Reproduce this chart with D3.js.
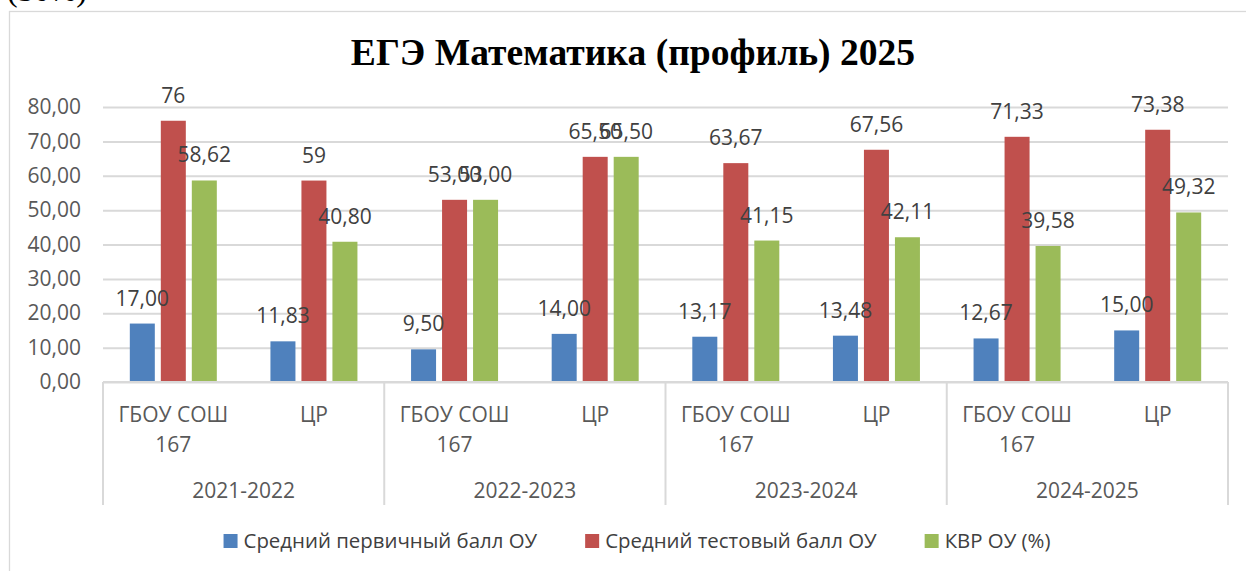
<!DOCTYPE html>
<html>
<head>
<meta charset="utf-8">
<script src="https://cdn.jsdelivr.net/npm/d3@7/dist/d3.min.js"></script>
<style>
  body { margin: 0; background: #fff; overflow: hidden; }
  svg { display: block; }
</style>
</head>
<body>
<div id="chart"></div>
<script>
// chart data
const years = ["2021-2022", "2022-2023", "2023-2024", "2024-2025"];
const schools = ["ГБОУ СОШ 167", "ЦР"];
const seriesNames = ["Средний первичный балл ОУ", "Средний тестовый балл ОУ", "КВР ОУ (%)"];
const seriesColors = ["#4F81BD", "#C0504D", "#9BBB59"];
const primaryScore = [17.00, 11.83, 9.50, 14.00, 13.17, 13.48, 12.67, 15.00];
const testScore = [76, 58.6, 53.00, 65.50, 63.67, 67.56, 71.33, 73.38];
const kvrScore = [58.62, 40.80, 53.00, 65.50, 41.15, 42.11, 39.58, 49.32];
const testLabels = ["76", "59", "53,00", "65,50", "63,67", "67,56", "71,33", "73,38"];
const yTicks = [0, 10, 20, 30, 40, 50, 60, 70, 80];

(() => {
  const W = 1246, H = 571;
  const left = 103, right = 1228, top = 107, bottom = 382;
  const uiFont = "'Open Sans', 'Noto Sans', sans-serif";

  const svg = d3.select("#chart").append("svg")
    .attr("width", W).attr("height", H);

  // piece of page text above the chart
  svg.append("text")
    .attr("x", 7).attr("y", 1)
    .attr("font-family", "'Liberation Serif', serif")
    .attr("font-size", 32)
    .attr("fill", "#000")
    .text("(50%)");

  // chart frame (runs off the right and bottom edge)
  svg.append("rect")
    .attr("x", 9.5).attr("y", 11.5)
    .attr("width", 1270).attr("height", 600)
    .attr("fill", "#fff")
    .attr("stroke", "#D9D9D9").attr("stroke-width", 1.3);

  svg.append("text")
    .attr("x", 633).attr("y", 65)
    .attr("text-anchor", "middle")
    .attr("font-family", "'Liberation Serif', 'Times New Roman', serif")
    .attr("font-weight", "bold")
    .attr("font-size", 37.6)
    .attr("fill", "#000")
    .text("ЕГЭ Математика (профиль) 2025");

  // categories: year x school
  const cats = [];
  years.forEach(y => schools.forEach(s => cats.push(y + "|" + s)));

  const x = d3.scaleBand().domain(cats).range([left, right]);
  const xs = d3.scaleBand().domain(seriesNames)
    .range([x.bandwidth() / 2 - 43.5, x.bandwidth() / 2 + 43.5])
    .paddingInner(6 / 31);
  const y = d3.scaleLinear().domain([0, 80]).range([bottom, top]);

  const comma = d3.formatLocale({ decimal: ",", thousands: " ", grouping: [3], currency: ["", ""] });
  const fmt = comma.format(".2f");

  // gridlines
  svg.append("g")
    .attr("transform", `translate(${left},0)`)
    .call(d3.axisLeft(y).tickValues(yTicks).tickSize(-(right - left)).tickFormat(""))
    .call(g => g.select(".domain").remove())
    .call(g => g.selectAll("line").attr("stroke", "#D9D9D9").attr("stroke-width", 2));

  // y labels
  svg.append("g")
    .attr("transform", "translate(81,0)")
    .call(d3.axisLeft(y).tickValues(yTicks).tickSize(0).tickPadding(0).tickFormat(fmt))
    .call(g => g.select(".domain").remove())
    .call(g => g.selectAll("text")
      .attr("font-family", uiFont).attr("font-size", 21).attr("fill", "#595959"));

  // bars
  const seriesData = [primaryScore, testScore, kvrScore];
  const seriesText = [
    primaryScore.map(fmt),
    testLabels,
    kvrScore.map(fmt)
  ];

  seriesNames.forEach((name, si) => {
    const rows = cats.map((c, i) => ({ c, v: seriesData[si][i], t: seriesText[si][i] }));
    svg.append("g").selectAll("rect").data(rows).join("rect")
      .attr("x", d => x(d.c) + xs(name))
      .attr("width", xs.bandwidth())
      .attr("y", d => y(d.v))
      .attr("height", d => y(0) - y(d.v))
      .attr("fill", seriesColors[si]);
  });

  seriesNames.forEach((name, si) => {
    const rows = cats.map((c, i) => ({ c, v: seriesData[si][i], t: seriesText[si][i] }));
    svg.append("g").selectAll("text").data(rows).join("text")
      .attr("x", d => x(d.c) + xs(name) + xs.bandwidth() / 2)
      .attr("y", d => y(d.v) - 18)
      .attr("text-anchor", "middle")
      .attr("font-family", uiFont).attr("font-size", 21)
      .attr("fill", "#404040")
      .text(d => d.t);
  });

  // category axis
  const axisG = svg.append("g");
  axisG.append("line")
    .attr("x1", left).attr("x2", right)
    .attr("y1", bottom).attr("y2", bottom)
    .attr("stroke", "#D9D9D9").attr("stroke-width", 2);

  const yearEdges = years.map((yr, i) => x(yr + "|" + schools[0])).concat([right]);
  axisG.selectAll("line.sep").data(yearEdges).join("line")
    .attr("class", "sep")
    .attr("x1", d => d).attr("x2", d => d)
    .attr("y1", bottom).attr("y2", 505)
    .attr("stroke", "#D9D9D9").attr("stroke-width", 2);

  cats.forEach(c => {
    const school = c.split("|")[1];
    const cx = x(c) + x.bandwidth() / 2;
    const words = school === "ЦР" ? ["ЦР"] : ["ГБОУ СОШ", "167"];
    words.forEach((w, k) => {
      axisG.append("text")
        .attr("x", cx).attr("y", 422 + k * 30)
        .attr("text-anchor", "middle")
        .attr("font-family", uiFont).attr("font-size", 21)
        .attr("fill", "#595959")
        .text(w);
    });
  });

  years.forEach(yr => {
    const x0 = x(yr + "|" + schools[0]);
    axisG.append("text")
      .attr("x", x0 + x.bandwidth())
      .attr("y", 498)
      .attr("text-anchor", "middle")
      .attr("font-family", uiFont).attr("font-size", 21)
      .attr("fill", "#595959")
      .text(yr);
  });

  // legend
  const legend = svg.append("g");
  const items = seriesNames.map((name, i) => {
    const g = legend.append("g");
    g.append("rect").attr("width", 14).attr("height", 14).attr("y", -7).attr("fill", seriesColors[i]);
    const t = g.append("text").attr("x", 20).attr("y", 7)
      .attr("font-family", uiFont).attr("font-size", 20.4)
      .attr("fill", "#404040").text(name);
    return { g, w: 20 + t.node().getComputedTextLength() };
  });
  const gap = 48;
  const total = d3.sum(items, d => d.w) + gap * (items.length - 1);
  let lx = 637 - total / 2;
  items.forEach(it => {
    it.g.attr("transform", `translate(${lx},541)`);
    lx += it.w + gap;
  });
})();
</script>
</body>
</html>
